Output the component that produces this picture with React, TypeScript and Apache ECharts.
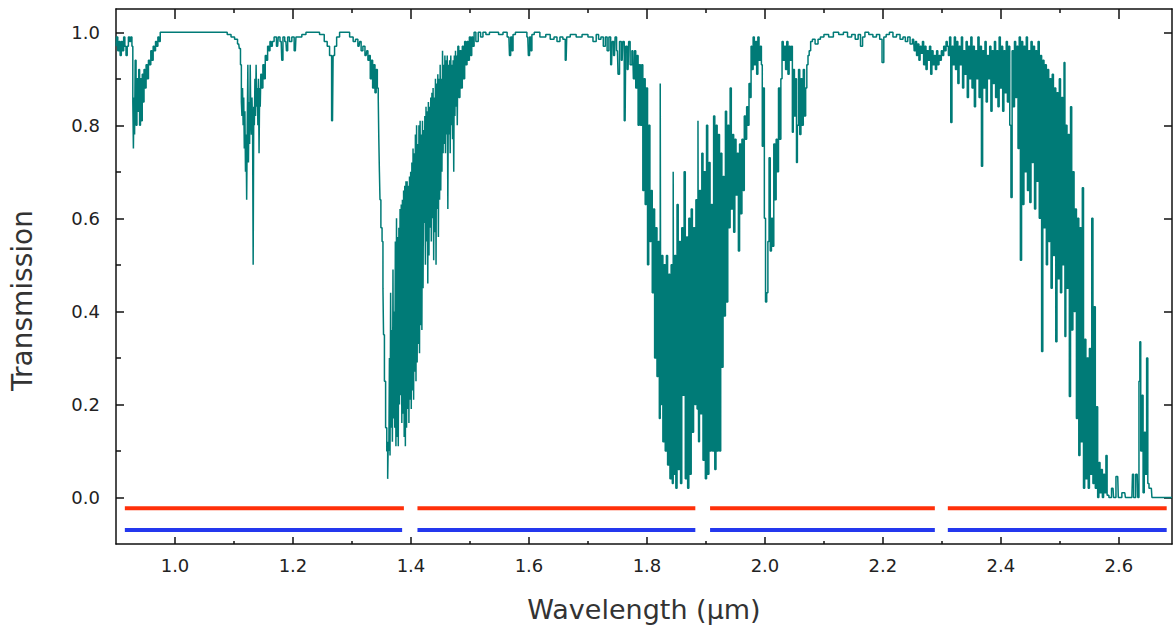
import React, { useEffect, useRef } from "react";
import * as echarts from "echarts";

// Axis ranges and tick values
const xMin = 0.9;
const xMax = 2.69;
const yMin = -0.1;
const yMax = 1.05;
const xLabelTicks = [1.0, 1.2, 1.4, 1.6, 1.8, 2.0, 2.2, 2.4, 2.6];
const xMinorTicks = [1.1, 1.3, 1.5, 1.7, 1.9, 2.1, 2.3, 2.5];
const yLabelTicks = [0, 0.2, 0.4, 0.6, 0.8, 1.0];
const yMinorTicks = [0.1, 0.3, 0.5, 0.7, 0.9];

// Spectral band bars (wavelength ranges)
const segStarts = [0.915, 1.411, 1.907, 2.31];
const redEnds = [1.388, 1.882, 2.288, 2.681];
const blueEnds = [1.385, 1.882, 2.288, 2.681];
const redLevel = -0.023;
const blueLevel = -0.07;

// Transmission spectrum [wavelength µm, transmission], read region by region
const band094 = [
  [0.900, 0.97], [0.902, 0.99], [0.904, 0.96], [0.906, 0.98], [0.908, 0.95], [0.910, 0.98], [0.912, 0.96], [0.914, 0.99],
  [0.916, 0.97], [0.918, 0.95], [0.920, 0.97], [0.922, 0.99], [0.924, 0.98], [0.926, 0.99], [0.928, 0.97], [0.929, 0.85],
  [0.930, 0.75], [0.931, 0.86], [0.932, 0.78], [0.933, 0.94], [0.935, 0.80], [0.936, 0.90], [0.938, 0.83], [0.939, 0.92],
  [0.941, 0.80], [0.942, 0.90], [0.944, 0.81], [0.945, 0.91], [0.947, 0.85], [0.948, 0.92], [0.950, 0.88], [0.952, 0.93],
  [0.954, 0.90], [0.956, 0.94], [0.958, 0.93], [0.960, 0.96], [0.962, 0.94], [0.964, 0.97], [0.966, 0.96], [0.968, 0.98],
  [0.970, 0.97], [0.972, 0.99], [0.974, 0.98], [0.976, 1.0], [0.980, 1.0],
];
const window1 = [
  [1.000, 1.0], [1.050, 1.0], [1.085, 1.0], [1.092, 0.995], [1.098, 0.99], [1.104, 0.985], [1.108, 0.975], [1.110, 0.965],
];
const band114 = [
  [1.112, 0.93], [1.113, 0.85], [1.114, 0.82], [1.115, 0.88], [1.116, 0.80], [1.117, 0.86], [1.118, 0.75], [1.119, 0.83],
  [1.120, 0.70], [1.121, 0.78], [1.122, 0.64], [1.123, 0.80], [1.124, 0.93], [1.125, 0.72], [1.126, 0.85], [1.127, 0.76],
  [1.128, 0.93], [1.129, 0.82], [1.130, 0.78], [1.131, 0.86], [1.132, 0.80], [1.133, 0.50], [1.134, 0.84], [1.135, 0.80],
  [1.136, 0.90], [1.137, 0.82], [1.138, 0.93], [1.139, 0.84], [1.140, 0.88], [1.141, 0.80], [1.142, 0.90], [1.143, 0.74],
  [1.144, 0.88], [1.145, 0.84], [1.146, 0.91], [1.148, 0.88], [1.150, 0.93], [1.152, 0.90], [1.154, 0.95], [1.156, 0.94],
  [1.158, 0.97], [1.160, 0.96], [1.162, 0.98], [1.164, 0.97],
];
const window2 = [
  [1.166, 0.98], [1.170, 0.99], [1.174, 0.97], [1.176, 0.99], [1.180, 0.98], [1.182, 0.94], [1.184, 0.99], [1.188, 0.98],
  [1.190, 0.96], [1.192, 0.99], [1.196, 0.98], [1.200, 0.99], [1.204, 0.96], [1.206, 0.99], [1.212, 0.99], [1.218, 0.995],
  [1.226, 1.0], [1.240, 1.0], [1.250, 0.995], [1.256, 0.98], [1.260, 0.97], [1.264, 0.95], [1.267, 0.81], [1.269, 0.95],
  [1.272, 0.97], [1.276, 0.99], [1.282, 1.0], [1.292, 1.0], [1.300, 0.99], [1.304, 0.98], [1.308, 0.985], [1.312, 0.97],
  [1.314, 0.98], [1.317, 0.96], [1.320, 0.97], [1.324, 0.95], [1.326, 0.96], [1.328, 0.94], [1.330, 0.95], [1.332, 0.90],
  [1.334, 0.94], [1.336, 0.88], [1.338, 0.93], [1.340, 0.87], [1.342, 0.92], [1.344, 0.88], [1.345, 0.86], [1.346, 0.77],
  [1.347, 0.70], [1.348, 0.64], [1.350, 0.58], [1.352, 0.55], [1.353, 0.45], [1.354, 0.35], [1.356, 0.25], [1.358, 0.15],
  [1.360, 0.10], [1.361, 0.04], [1.362, 0.12],
];
const band138 = [
  [1.363, 0.10], [1.364, 0.30], [1.365, 0.09], [1.366, 0.44], [1.367, 0.15], [1.368, 0.36], [1.369, 0.12], [1.370, 0.49],
  [1.371, 0.17], [1.372, 0.40], [1.373, 0.15], [1.374, 0.55], [1.375, 0.11], [1.376, 0.60], [1.377, 0.13], [1.378, 0.56],
  [1.379, 0.11], [1.380, 0.58], [1.381, 0.20], [1.382, 0.62], [1.383, 0.22], [1.384, 0.63], [1.385, 0.16], [1.386, 0.64],
  [1.387, 0.18], [1.388, 0.66], [1.389, 0.13], [1.390, 0.67], [1.391, 0.11], [1.392, 0.68], [1.393, 0.15], [1.394, 0.68],
  [1.395, 0.19], [1.396, 0.67], [1.397, 0.16], [1.398, 0.69], [1.399, 0.21], [1.400, 0.70], [1.401, 0.19], [1.402, 0.72],
  [1.403, 0.23], [1.404, 0.75], [1.405, 0.21], [1.406, 0.74], [1.407, 0.27], [1.408, 0.78], [1.409, 0.25], [1.410, 0.80],
  [1.411, 0.29], [1.412, 0.76], [1.413, 0.33], [1.414, 0.80], [1.415, 0.31], [1.416, 0.81], [1.417, 0.37], [1.418, 0.78],
  [1.419, 0.36], [1.420, 0.81], [1.421, 0.45], [1.422, 0.79], [1.423, 0.59], [1.424, 0.82], [1.425, 0.50], [1.426, 0.84],
  [1.427, 0.55], [1.428, 0.83], [1.429, 0.46], [1.430, 0.85], [1.431, 0.52], [1.432, 0.84], [1.433, 0.58], [1.434, 0.86],
  [1.435, 0.55], [1.436, 0.87], [1.437, 0.60], [1.438, 0.88], [1.439, 0.51], [1.440, 0.86], [1.441, 0.57], [1.442, 0.90],
  [1.443, 0.50], [1.444, 0.89], [1.445, 0.62], [1.446, 0.91], [1.447, 0.56], [1.448, 0.90], [1.449, 0.64], [1.450, 0.93],
  [1.451, 0.66], [1.452, 0.90], [1.453, 0.70], [1.454, 0.96], [1.455, 0.74], [1.456, 0.93], [1.457, 0.76], [1.458, 0.95],
  [1.459, 0.74], [1.460, 0.94], [1.461, 0.78], [1.462, 0.95], [1.463, 0.62], [1.464, 0.93], [1.465, 0.78], [1.466, 0.94],
  [1.467, 0.74], [1.468, 0.95], [1.469, 0.80], [1.470, 0.93], [1.471, 0.77], [1.472, 0.94], [1.473, 0.70], [1.474, 0.95],
  [1.475, 0.82], [1.476, 0.96], [1.477, 0.84], [1.478, 0.95], [1.479, 0.80], [1.480, 0.97], [1.482, 0.86], [1.484, 0.96],
  [1.486, 0.88], [1.488, 0.97], [1.490, 0.90], [1.492, 0.98], [1.494, 0.93], [1.496, 0.98], [1.498, 0.94], [1.500, 0.99],
  [1.502, 0.95], [1.504, 0.99], [1.506, 0.97], [1.508, 1.0], [1.512, 0.98], [1.516, 1.0], [1.520, 0.99],
];
const window3 = [
  [1.524, 1.0], [1.530, 0.995], [1.536, 1.0], [1.545, 1.0], [1.552, 0.995], [1.560, 1.0], [1.566, 0.99], [1.568, 0.95],
  [1.570, 0.99], [1.572, 0.96], [1.574, 0.995], [1.580, 1.0], [1.595, 1.0], [1.598, 0.99], [1.600, 0.95], [1.602, 0.99],
  [1.604, 0.96], [1.606, 0.995], [1.612, 1.0], [1.625, 0.99], [1.632, 0.995], [1.640, 0.985], [1.645, 0.99], [1.650, 0.98],
  [1.655, 0.99], [1.660, 0.985], [1.663, 0.94], [1.665, 0.99], [1.675, 0.995], [1.685, 0.99], [1.695, 0.995], [1.705, 0.99],
  [1.712, 0.98], [1.716, 0.995], [1.720, 0.985], [1.724, 0.99], [1.728, 0.97], [1.731, 0.99], [1.734, 0.96], [1.737, 0.99],
  [1.740, 0.93], [1.742, 0.98], [1.745, 0.95], [1.747, 0.99], [1.750, 0.96], [1.752, 0.91], [1.755, 0.98], [1.758, 0.94],
  [1.760, 0.98], [1.763, 0.81], [1.765, 0.97], [1.768, 0.92], [1.770, 0.98], [1.773, 0.93], [1.776, 0.96], [1.778, 0.90],
  [1.780, 0.96], [1.782, 0.88], [1.784, 0.95], [1.786, 0.80], [1.788, 0.93],
];
const band187 = [
  [1.790, 0.80], [1.792, 0.93], [1.794, 0.66], [1.796, 0.90], [1.798, 0.63], [1.800, 0.88], [1.802, 0.50], [1.804, 0.80],
  [1.806, 0.55], [1.808, 0.66], [1.810, 0.44], [1.812, 0.62], [1.814, 0.30], [1.816, 0.58], [1.818, 0.26], [1.820, 0.55],
  [1.822, 0.17], [1.823, 0.89], [1.824, 0.20], [1.826, 0.52], [1.828, 0.12], [1.830, 0.50], [1.832, 0.10], [1.834, 0.52],
  [1.836, 0.07], [1.838, 0.48], [1.840, 0.04], [1.842, 0.50], [1.844, 0.03], [1.845, 0.70], [1.846, 0.05], [1.848, 0.52],
  [1.850, 0.02], [1.852, 0.63], [1.854, 0.06], [1.856, 0.55], [1.858, 0.03], [1.860, 0.58], [1.862, 0.22], [1.864, 0.70],
  [1.866, 0.04], [1.868, 0.56], [1.870, 0.02], [1.872, 0.60], [1.874, 0.05], [1.876, 0.62], [1.878, 0.14], [1.880, 0.58],
  [1.882, 0.20], [1.884, 0.64], [1.886, 0.19], [1.887, 0.81], [1.888, 0.12], [1.890, 0.66], [1.892, 0.18], [1.894, 0.74],
  [1.896, 0.08], [1.898, 0.70], [1.900, 0.04], [1.902, 0.80], [1.904, 0.05], [1.906, 0.72], [1.908, 0.10], [1.910, 0.63],
  [1.912, 0.10], [1.914, 0.82], [1.916, 0.06], [1.918, 0.80], [1.920, 0.10], [1.922, 0.78], [1.924, 0.10], [1.926, 0.74],
  [1.928, 0.28], [1.930, 0.69], [1.932, 0.39], [1.934, 0.83], [1.936, 0.42], [1.938, 0.80], [1.940, 0.58], [1.942, 0.88],
  [1.944, 0.62], [1.946, 0.78], [1.948, 0.57], [1.950, 0.77], [1.952, 0.65], [1.954, 0.74], [1.956, 0.53], [1.958, 0.76],
  [1.960, 0.61], [1.962, 0.77], [1.964, 0.66], [1.966, 0.82], [1.968, 0.77], [1.970, 0.84], [1.972, 0.80], [1.974, 0.89],
  [1.976, 0.86], [1.977, 0.97], [1.979, 0.92], [1.981, 0.99], [1.983, 0.93], [1.985, 0.98], [1.987, 0.91], [1.989, 0.99],
  [1.991, 0.94], [1.993, 0.97], [1.995, 0.93], [1.996, 0.755], [1.998, 0.88], [2.000, 0.60], [2.002, 0.42], [2.004, 0.44],
  [2.006, 0.55], [2.008, 0.73], [2.010, 0.53], [2.012, 0.60], [2.014, 0.54], [2.016, 0.76], [2.018, 0.64], [2.020, 0.77],
  [2.022, 0.70], [2.024, 0.88], [2.026, 0.77], [2.028, 0.90], [2.030, 0.98], [2.032, 0.94], [2.034, 0.97], [2.036, 0.92],
  [2.038, 0.98], [2.040, 0.91], [2.042, 0.97], [2.044, 0.94], [2.046, 0.97], [2.047, 0.785], [2.049, 0.92], [2.051, 0.82],
  [2.053, 0.90], [2.054, 0.72], [2.056, 0.80], [2.058, 0.92], [2.060, 0.78], [2.062, 0.90], [2.064, 0.80], [2.066, 0.92],
  [2.068, 0.82], [2.070, 0.88], [2.072, 0.93], [2.074, 0.95], [2.076, 0.96], [2.079, 0.98],
];
const window4 = [
  [2.082, 0.985], [2.088, 0.975], [2.092, 0.985], [2.096, 0.99], [2.104, 0.995], [2.112, 0.99], [2.120, 1.0], [2.130, 0.995],
  [2.136, 1.0], [2.144, 0.99], [2.150, 0.995], [2.156, 0.985], [2.160, 0.995], [2.164, 0.97], [2.167, 0.99], [2.172, 1.0],
  [2.180, 0.995], [2.186, 0.99], [2.192, 0.995], [2.197, 0.985], [2.200, 0.935], [2.203, 0.99], [2.208, 0.995], [2.214, 1.0],
  [2.220, 0.99], [2.226, 0.995], [2.232, 0.985], [2.236, 0.99], [2.240, 0.98], [2.244, 0.99], [2.248, 0.975], [2.252, 0.985],
  [2.254, 0.96], [2.256, 0.98], [2.258, 0.95], [2.260, 0.975], [2.262, 0.94], [2.264, 0.97], [2.266, 0.955], [2.268, 0.98],
  [2.270, 0.93], [2.272, 0.97], [2.274, 0.92], [2.276, 0.96], [2.278, 0.94], [2.280, 0.97], [2.282, 0.91], [2.284, 0.96],
  [2.286, 0.93], [2.288, 0.95], [2.290, 0.92], [2.292, 0.96], [2.294, 0.93], [2.296, 0.95], [2.298, 0.94], [2.300, 0.96],
  [2.302, 0.95], [2.304, 0.97], [2.306, 0.96], [2.308, 0.98],
];
const band27 = [
  [2.310, 0.97], [2.312, 0.95], [2.314, 0.99], [2.316, 0.806], [2.318, 0.97], [2.320, 0.93], [2.322, 0.99], [2.324, 0.92],
  [2.326, 0.98], [2.328, 0.89], [2.330, 0.97], [2.332, 0.93], [2.334, 0.99], [2.336, 0.88], [2.338, 0.96], [2.340, 0.91],
  [2.342, 0.98], [2.344, 0.86], [2.346, 0.97], [2.348, 0.90], [2.350, 0.99], [2.352, 0.88], [2.354, 0.97], [2.356, 0.84],
  [2.358, 0.96], [2.360, 0.90], [2.362, 0.99], [2.364, 0.86], [2.366, 0.97], [2.368, 0.712], [2.370, 0.96], [2.372, 0.88],
  [2.374, 0.98], [2.376, 0.85], [2.378, 0.95], [2.380, 0.90], [2.382, 0.97], [2.384, 0.83], [2.386, 0.96], [2.388, 0.89],
  [2.390, 0.98], [2.392, 0.86], [2.394, 0.96], [2.396, 0.84], [2.398, 0.99], [2.400, 0.88], [2.402, 0.97], [2.404, 0.83],
  [2.406, 0.96], [2.408, 0.87], [2.410, 0.98], [2.412, 0.85], [2.414, 0.97], [2.416, 0.80], [2.418, 0.645], [2.420, 0.96],
  [2.422, 0.84], [2.424, 0.98], [2.426, 0.86], [2.428, 0.97], [2.430, 0.75], [2.432, 0.99], [2.434, 0.51], [2.436, 0.98],
  [2.438, 0.63], [2.440, 0.97], [2.442, 0.70], [2.444, 0.99], [2.446, 0.66], [2.448, 0.96], [2.450, 0.634], [2.452, 0.98],
  [2.454, 0.72], [2.456, 0.97], [2.458, 0.62], [2.460, 0.96], [2.462, 0.68], [2.464, 0.98], [2.466, 0.60], [2.468, 0.95],
  [2.470, 0.314], [2.472, 0.94], [2.474, 0.58], [2.476, 0.93], [2.478, 0.50], [2.480, 0.92], [2.482, 0.55], [2.484, 0.90],
  [2.486, 0.45], [2.488, 0.91], [2.490, 0.52], [2.492, 0.88], [2.494, 0.335], [2.496, 0.87], [2.498, 0.47], [2.500, 0.90],
  [2.502, 0.44], [2.504, 0.86], [2.506, 0.50], [2.508, 0.935], [2.509, 0.346], [2.511, 0.80], [2.513, 0.45], [2.515, 0.78],
  [2.517, 0.217], [2.519, 0.84], [2.521, 0.36], [2.523, 0.70], [2.525, 0.40], [2.527, 0.62], [2.529, 0.17], [2.531, 0.60],
  [2.533, 0.09], [2.535, 0.58], [2.537, 0.12], [2.539, 0.666], [2.541, 0.02], [2.543, 0.34], [2.545, 0.04], [2.547, 0.30],
  [2.549, 0.02], [2.551, 0.32], [2.553, 0.05], [2.555, 0.60], [2.557, 0.03], [2.559, 0.41], [2.561, 0.02], [2.563, 0.195],
  [2.565, 0.00], [2.567, 0.075], [2.569, 0.01], [2.571, 0.06], [2.573, 0.00], [2.575, 0.05], [2.577, 0.01], [2.579, 0.09],
  [2.581, 0.005], [2.585, 0.00], [2.590, 0.02], [2.592, 0.00], [2.598, 0.045], [2.600, 0.00], [2.610, 0.01], [2.612, 0.00],
  [2.622, 0.00], [2.624, 0.05], [2.626, 0.00], [2.631, 0.05], [2.633, 0.00], [2.635, 0.25], [2.636, 0.335], [2.638, 0.10],
  [2.640, 0.22], [2.642, 0.01], [2.644, 0.14], [2.646, 0.05], [2.648, 0.30], [2.650, 0.03], [2.652, 0.02], [2.655, 0.02],
  [2.657, 0.00], [2.665, 0.00], [2.690, 0.00],
];

const FONT = "DejaVu Sans";
const AXIS_COLOR = "#111";
const LABEL_COLOR = "#222";

export default function App() {
  const ref = useRef<HTMLDivElement>(null);

  useEffect(() => {
    if (!ref.current) return;
    const chart = echarts.init(ref.current, null, { renderer: "svg" });

    const spectrum = [
      ...band094, ...window1, ...band114, ...window2, ...band138,
      ...window3, ...band187, ...window4, ...band27,
    ];

    const baseX = { type: "value", min: xMin, max: xMax, splitLine: { show: false } };
    const baseY = { type: "value", min: yMin, max: yMax, splitLine: { show: false } };
    const lineStyle = { color: AXIS_COLOR, width: 1.5 };

    const segSeries: any[] = [];
    segStarts.forEach((s, i) => {
      segSeries.push({
        type: "line",
        data: [[s, redLevel], [redEnds[i], redLevel]],
        symbol: "none",
        silent: true,
        lineStyle: { color: "#ff300a", width: 4, cap: "butt" },
      });
      segSeries.push({
        type: "line",
        data: [[s, blueLevel], [blueEnds[i], blueLevel]],
        symbol: "none",
        silent: true,
        lineStyle: { color: "#2438ee", width: 4, cap: "butt" },
      });
    });

    chart.setOption({
      animation: false,
      grid: { left: 116, right: 1, top: 9, bottom: 83, containLabel: false, outerBoundsMode: "none" },
      xAxis: [
        {
          ...baseX,
          position: "bottom",
          axisLine: { show: true, onZero: false, lineStyle },
          axisTick: { show: true, inside: true, length: 7, customValues: xLabelTicks, lineStyle },
          axisLabel: {
            customValues: xLabelTicks,
            formatter: (v: number) => v.toFixed(1),
            margin: 12,
            fontFamily: FONT,
            fontSize: 18,
            color: LABEL_COLOR,
          },
          name: "Wavelength (µm)",
          nameLocation: "middle",
          nameGap: 52,
          nameTextStyle: { fontFamily: FONT, fontSize: 27, color: "#333" },
        },
        {
          ...baseX,
          position: "bottom",
          axisLine: { show: false, onZero: false },
          axisTick: { show: true, inside: true, length: 3, customValues: xMinorTicks, lineStyle },
          axisLabel: { show: false },
        },
        {
          ...baseX,
          position: "top",
          axisLine: { show: true, onZero: false, lineStyle },
          axisTick: { show: true, inside: true, length: 10, customValues: xLabelTicks, lineStyle },
          axisLabel: { show: false },
        },
        {
          ...baseX,
          position: "top",
          axisLine: { show: false, onZero: false },
          axisTick: { show: true, inside: true, length: 4, customValues: xMinorTicks, lineStyle },
          axisLabel: { show: false },
        },
      ],
      yAxis: [
        {
          ...baseY,
          position: "left",
          axisLine: { show: true, onZero: false, lineStyle },
          axisTick: { show: true, inside: true, length: 8, customValues: yLabelTicks, lineStyle },
          axisLabel: {
            customValues: yLabelTicks,
            formatter: (v: number) => v.toFixed(1),
            margin: 16,
            fontFamily: FONT,
            fontSize: 18,
            color: LABEL_COLOR,
          },
          name: "Transmission",
          nameLocation: "middle",
          nameGap: 80,
          nameTextStyle: { fontFamily: FONT, fontSize: 28, color: "#333", padding: [0, 48, 0, 0] },
        },
        {
          ...baseY,
          position: "left",
          axisLine: { show: false, onZero: false },
          axisTick: { show: true, inside: true, length: 5, customValues: yMinorTicks, lineStyle },
          axisLabel: { show: false },
        },
        {
          ...baseY,
          position: "right",
          axisLine: { show: true, onZero: false, lineStyle },
          axisTick: { show: true, inside: true, length: 8, customValues: yLabelTicks, lineStyle },
          axisLabel: { show: false },
        },
      ],
      series: [
        {
          type: "line",
          data: spectrum,
          xAxisIndex: 0,
          yAxisIndex: 0,
          step: "middle",
          symbol: "none",
          showSymbol: false,
          silent: true,
          lineStyle: { color: "#007b77", width: 1.5 },
        },
        ...segSeries,
      ],
    });

    return () => chart.dispose();
  }, []);

  return (
    <div
      ref={ref}
      style={{ position: "fixed", left: 0, top: 0, width: 1173, height: 627, background: "#fff" }}
    />
  );
}
